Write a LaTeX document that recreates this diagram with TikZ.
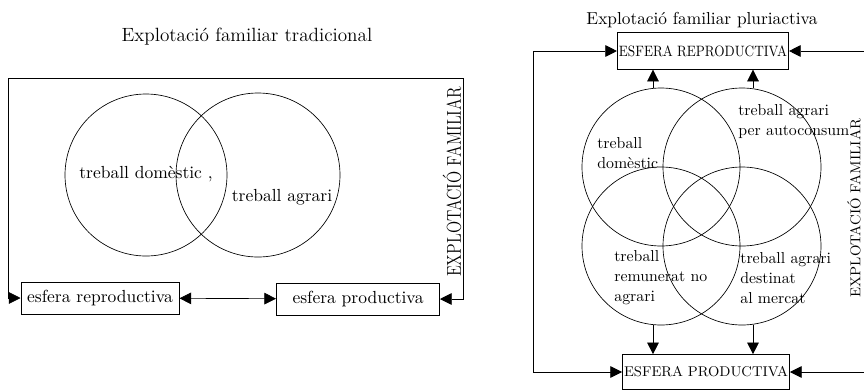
\documentclass[tikz,border=0pt]{standalone}
\usepackage{fontspec}
\usepackage{graphicx}
\usetikzlibrary{arrows.meta}

\begin{document}
\begin{tikzpicture}[x=0.6pt,y=-0.6pt,thin,
    tip/.style={-{Triangle[length=7pt,width=7pt]}},
    dtip/.style={{Triangle[length=7pt,width=7pt]}-{Triangle[length=7pt,width=7pt]}},
    box/.style={draw,inner xsep=1pt,inner ysep=0pt},
    lab/.style={inner sep=0pt,align=left,font=\fontsize{9.5}{12}\selectfont}]
      \useasboundingbox (0,0) rectangle (864,390) ;
      % explotacio tradicional
      \node[font=\fontsize{11.5}{14}\selectfont] (tit1) at (247,37) {Explotació familiar tradicional} ;
      \draw (146,175) circle (81) ;
      \draw (258,175) circle (82) ;
      \node[inner sep=0pt,font=\fontsize{10.5}{12}\selectfont] (dom1) at (146,174) {treball domèstic ,} ;
      \node[inner sep=0pt,font=\fontsize{10.5}{12}\selectfont] (agr1) at (282,197) {treball agrari} ;
      \node[box,minimum width=95pt,minimum height=19pt,font=\fontsize{10.5}{12}\selectfont] (rep1) at (100,298) {esfera reproductiva} ;
      \node[box,minimum width=98pt,minimum height=19pt,font=\fontsize{10.5}{12}\selectfont] (prod1) at (358,299) {esfera productiva} ;
      \node[rotate=90,inner sep=0pt,font=\fontsize{12}{14}\selectfont] (ef1) at (452,182) {\scalebox{0.8}[1]{EXPLOTACIÓ FAMILIAR}} ;
      \coordinate (c1) at (8,78) ;
      \coordinate (c2) at (463,78) ;
      \draw[tip] (c2) -- (c1) |- (rep1.west) ;
      \draw[tip] (c2) |- (prod1.east) ;
      \draw[dtip] (rep1) -- (prod1) ;
      % explotacio pluriactiva
      \node[font=\fontsize{10.4}{12}\selectfont] (tit2) at (702,20) {Explotació familiar pluriactiva} ;
      \node[box,minimum width=100pt,minimum height=22pt,font=\fontsize{9}{10}\selectfont] (rep2) at (703,51) {\scalebox{0.86}[1]{ESFERA REPRODUCTIVA}} ;
      \node[box,minimum width=100pt,minimum height=21pt,font=\fontsize{8.5}{10}\selectfont] (prod2) at (706,372) {ESFERA PRODUCTIVA} ;
      \draw (661,167) circle (79) ;
      \draw (742,167) circle (79) ;
      \draw (661,246) circle (79) ;
      \draw (742,246) circle (79) ;
      \node[lab,anchor=west] (dom2) at (597,153) {treball\\domèstic} ;
      \node[lab,anchor=west] (auto2) at (738,122) {treball agrari\\per autoconsum} ;
      \node[lab,anchor=west] (rem2) at (614,278) {treball\\remunerat no\\agrari} ;
      \node[lab,anchor=west] (merc2) at (740,278) {treball agrari\\destinat\\al mercat} ;
      \node[rotate=90,inner sep=0pt,font=\fontsize{8.6}{10}\selectfont] (ef2) at (854,208) {EXPLOTACIÓ FAMILIAR} ;
      \coordinate (u1) at (653,88) ;
      \coordinate (u2) at (753,88) ;
      \coordinate (d1) at (653,325) ;
      \coordinate (d2) at (753,325) ;
      \draw[tip] (u1) -- (u1 |- rep2.south) ;
      \draw[tip] (u2) -- (u2 |- rep2.south) ;
      \draw[tip] (d1) -- (d1 |- prod2.north) ;
      \draw[tip] (d2) -- (d2 |- prod2.north) ;
      \coordinate (l2) at (533,200) ;
      \coordinate (r2a) at (864,51) ;
      \coordinate (r2b) at (864,372) ;
      \draw[tip] (l2) |- (rep2.west) ;
      \draw[tip] (l2) |- (prod2.west) ;
      \draw[tip] (r2a) -- (rep2.east) ;
      \draw[tip] (r2b) -- (prod2.east) ;
\end{tikzpicture}
\end{document}
